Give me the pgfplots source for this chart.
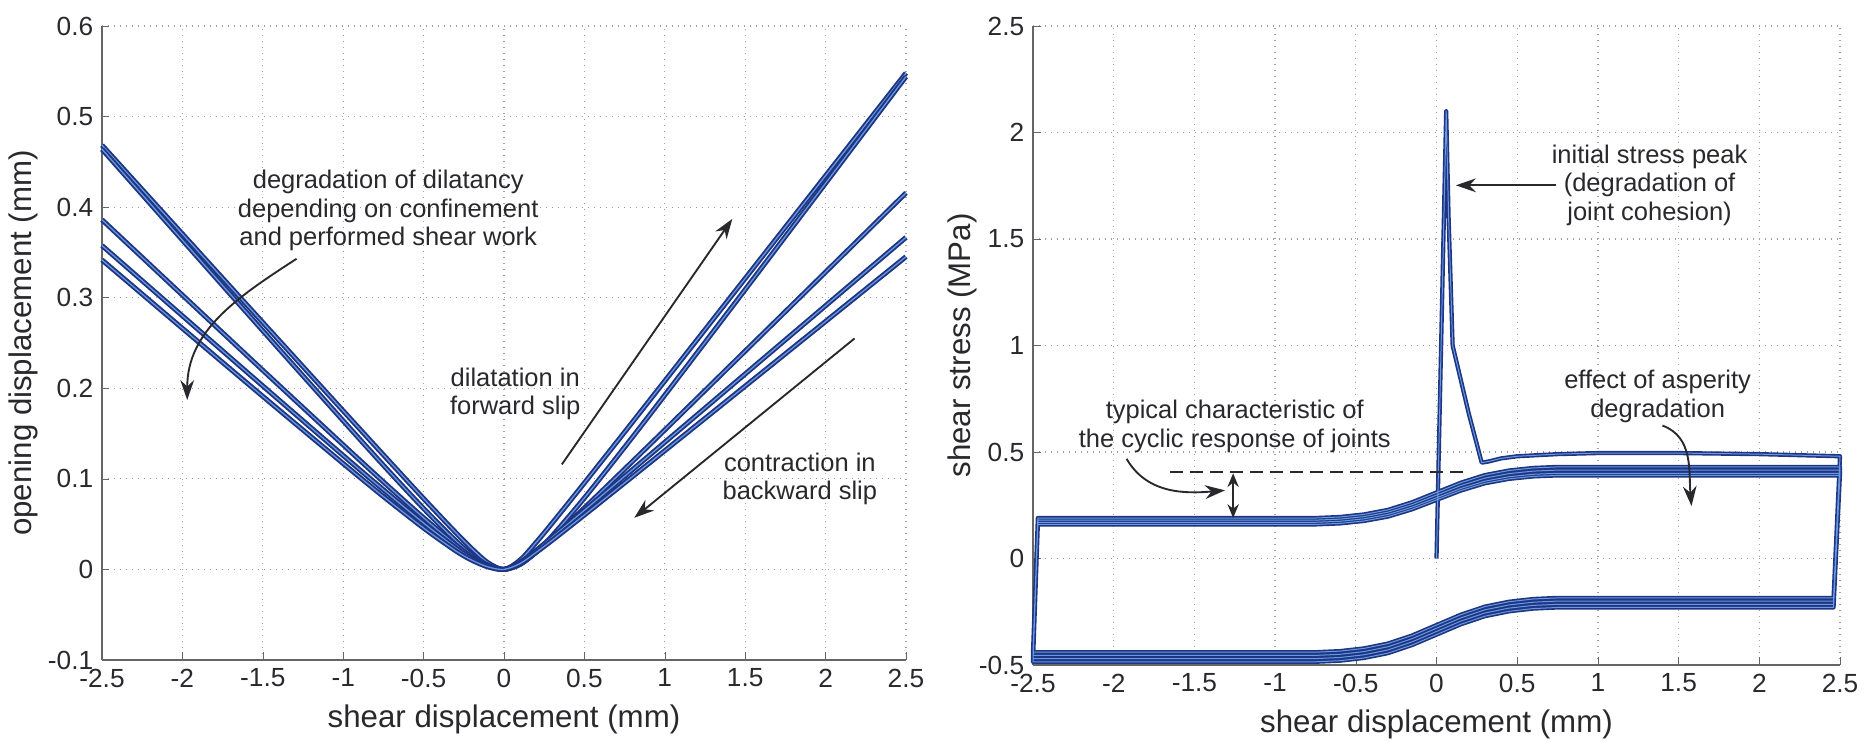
\documentclass[border=0pt]{standalone}
\usepackage{fontspec}
\setmainfont{Liberation Sans}
\usepackage{pgfplots}
\pgfplotsset{compat=1.18}
\usetikzlibrary{arrows.meta}

\definecolor{lineblue}{RGB}{30,52,132}
\definecolor{lightblue}{RGB}{105,155,220}
\definecolor{annot}{RGB}{40,40,45}

\tikzset{
  note/.style={font=\fontsize{10.2}{11.4}\selectfont, text=annot, align=center},
  pointer/.style={annot, line width=0.75pt, -{Stealth[length=8pt,width=5.5pt]}},
}
\pgfplotsset{
  jointaxis/.style={
    scale only axis,
    axis x line=bottom, axis y line=left,
    axis line style={-, gray!80!black, line width=0.5pt},
    xmin=-2.5, xmax=2.5,
    xtick={-2.5,-2,-1.5,-1,-0.5,0,0.5,1,1.5,2,2.5},
    grid=major,
    major grid style={dotted, gray!75, line width=0.5pt},
    tick align=inside,
    major tick length=3pt,
    tick style={gray!80!black},
    /pgf/number format/assume math mode=true,
    ticklabel style={font=\fontsize{10.5}{12}\selectfont, text=annot},
    label style={font=\fontsize{12.5}{14}\selectfont, text=annot},
    xlabel={shear displacement (mm)},
    clip=false,
  },
  curve/.style={lineblue, line width=0.75pt, double=lightblue, double distance=0.5pt, smooth, line join=round},
  loops/.style={lineblue, line width=0.65pt, double=lightblue, double distance=0.4pt, sharp plot, line join=round},
}

\begin{document}
\begin{tikzpicture}
\path[use as bounding box] (-40.8pt,-32.8pt) rectangle (709.6pt,264pt);

% ---- left: dilatancy ----
\begin{axis}[jointaxis, at={(0pt,0pt)}, anchor=south west,
  width=321.6pt, height=253.6pt,
  ymin=-0.1, ymax=0.6,
  ytick={-0.1,0,0.1,0.2,0.3,0.4,0.5,0.6},
  ylabel={opening displacement (mm)},
  ylabel style={yshift=-3pt}]
\addplot[curve] coordinates {
 (-2.5,0.4684) (-2,0.3705) (-1.5,0.2727) (-1,0.1751) (-0.75,0.1265) (-0.5,0.0783)
 (-0.3,0.0407) (-0.2,0.0229) (-0.1,0.0074) (0,0) (0.1,0.0103) (0.2,0.0298) (0.3,0.0512)
 (0.5,0.0955) (0.75,0.1516) (1,0.2081) (1.5,0.3213) (2,0.4347) (2.5,0.5481)};
\addplot[curve] coordinates {
 (-2.5,0.4640) (-2,0.3636) (-1.5,0.2635) (-1,0.1641) (-0.75,0.1150) (-0.5,0.0673)
 (-0.3,0.0317) (-0.2,0.0163) (-0.1,0.0046) (0,0) (0.1,0.0054) (0.2,0.0191) (0.3,0.0371)
 (0.5,0.0789) (0.75,0.1349) (1,0.1924) (1.5,0.3090) (2,0.4264) (2.5,0.5441)};
\addplot[curve] coordinates {
 (-2.5,0.3861) (-2,0.3029) (-1.5,0.2199) (-1,0.1375) (-0.75,0.0967) (-0.5,0.0570)
 (-0.3,0.0271) (-0.2,0.0140) (-0.1,0.0040) (0,0) (0.1,0.0060) (0.2,0.0192) (0.3,0.0347)
 (0.5,0.0679) (0.75,0.1108) (1,0.1540) (1.5,0.2411) (2,0.3283) (2.5,0.4157)};
\addplot[curve] coordinates {
 (-2.5,0.3576) (-2,0.2800) (-1.5,0.2026) (-1,0.1258) (-0.75,0.0880) (-0.5,0.0512)
 (-0.3,0.0239) (-0.2,0.0122) (-0.1,0.0034) (0,0) (0.1,0.0077) (0.2,0.0211) (0.3,0.0356)
 (0.5,0.0653) (0.75,0.1028) (1,0.1404) (1.5,0.2158) (2,0.2912) (2.5,0.3666)};
\addplot[curve] coordinates {
 (-2.5,0.3417) (-2,0.2662) (-1.5,0.1911) (-1,0.1169) (-0.75,0.0805) (-0.5,0.0457)
 (-0.3,0.0205) (-0.2,0.0102) (-0.1,0.0028) (0,0) (0.1,0.0065) (0.2,0.0188) (0.3,0.0322)
 (0.5,0.0601) (0.75,0.0955) (1,0.1311) (1.5,0.2024) (2,0.2738) (2.5,0.3453)};

\node[note] at (axis cs:-0.72,0.396) {degradation of dilatancy\\depending on confinement\\and performed shear work};
\draw[pointer] (axis cs:-1.29,0.343) to[out=213,in=90] (axis cs:-1.97,0.187);
\node[note] at (axis cs:0.07,0.194) {dilatation in\\forward slip};
\draw[pointer] (axis cs:0.36,0.116) -- (axis cs:1.42,0.387);
\node[note] at (axis cs:1.84,0.100) {contraction in\\backward slip};
\draw[pointer] (axis cs:2.18,0.255) -- (axis cs:0.81,0.057);
\end{axis}

% ---- right: shear stress ----
\begin{axis}[jointaxis, at={(372.4pt,-2pt)}, anchor=south west,
  width=322.8pt, height=255.6pt,
  ymin=-0.5, ymax=2.5,
  ytick={-0.5,0,0.5,1,1.5,2,2.5},
  ylabel={shear stress (MPa)},
  ylabel style={yshift=-6pt}]
\addplot[loops] coordinates {
 (0,0) (0.06,2.1) (0.075,1.6) (0.1,1.0) (0.2,0.68) (0.28,0.45) (0.32,0.455) (0.4,0.47)
 (0.5,0.48) (0.75,0.49) (1,0.495) (1.5,0.495) (2,0.49) (2.5,0.48)
 (2.46,-0.185) (2,-0.185) (1,-0.185)
 (0.75,-0.185) (0.6,-0.1901) (0.45,-0.2029) (0.3,-0.2258) (0.15,-0.2641) (0,-0.3125)
 (-0.15,-0.3610) (-0.3,-0.3992) (-0.45,-0.4222) (-0.6,-0.4349) (-0.75,-0.44)
 (-1,-0.44) (-2,-0.44) (-2.5,-0.44)
 (-2.47,0.19) (-1.5,0.19) (-1,0.19)
 (-0.75,0.19) (-0.6,0.1948) (-0.45,0.2068) (-0.3,0.2284) (-0.15,0.2644) (0,0.31)
 (0.15,0.3556) (0.3,0.3916) (0.45,0.4132) (0.6,0.4252) (0.75,0.43)
 (1.5,0.43) (2.5,0.43)
 (2.46,-0.20) (2,-0.20) (1,-0.20)
 (0.75,-0.20) (0.6,-0.2051) (0.45,-0.2179) (0.3,-0.2408) (0.15,-0.2791) (0,-0.3275)
 (-0.15,-0.3760) (-0.3,-0.4142) (-0.45,-0.4372) (-0.6,-0.4499) (-0.75,-0.455)
 (-1,-0.455) (-2,-0.455) (-2.5,-0.455)
 (-2.47,0.18) (-1.5,0.18) (-1,0.18)
 (-0.75,0.18) (-0.6,0.1847) (-0.45,0.1965) (-0.3,0.2176) (-0.15,0.2529) (0,0.2975)
 (0.15,0.3422) (0.3,0.3774) (0.45,0.3986) (0.6,0.4103) (0.75,0.415)
 (1.5,0.415) (2.5,0.415)
 (2.46,-0.215) (2,-0.215) (1,-0.215)
 (0.75,-0.215) (0.6,-0.2201) (0.45,-0.2329) (0.3,-0.2558) (0.15,-0.2941) (0,-0.3425)
 (-0.15,-0.3910) (-0.3,-0.4292) (-0.45,-0.4522) (-0.6,-0.4649) (-0.75,-0.47)
 (-1,-0.47) (-2,-0.47) (-2.5,-0.47)
 (-2.47,0.17) (-1.5,0.17) (-1,0.17)
 (-0.75,0.17) (-0.6,0.1746) (-0.45,0.1861) (-0.3,0.2068) (-0.15,0.2413) (0,0.285)
 (0.15,0.3287) (0.3,0.3632) (0.45,0.3839) (0.6,0.3954) (0.75,0.40)
 (1.5,0.40) (2.5,0.40)
 (2.46,-0.23) (2,-0.23) (1,-0.23)
 (0.75,-0.23) (0.6,-0.2351) (0.45,-0.2479) (0.3,-0.2708) (0.15,-0.3091) (0,-0.3575)
 (-0.15,-0.4060) (-0.3,-0.4442) (-0.45,-0.4672) (-0.6,-0.4799) (-0.75,-0.485)
 (-1,-0.485) (-2,-0.485) (-2.5,-0.485)
 (-2.47,0.16) (-1.5,0.16) (-1,0.16)
 (-0.75,0.16) (-0.6,0.1646) (-0.45,0.1761) (-0.3,0.1968) (-0.15,0.2313) (0,0.275)
 (0.15,0.3187) (0.3,0.3532) (0.45,0.3739) (0.6,0.3854) (0.75,0.39)
 (1.5,0.39) (2.5,0.39)};

\node[note] at (axis cs:1.32,1.752) {initial stress peak\\(degradation of\\joint cohesion)};
\draw[pointer] (axis cs:0.74,1.752) -- (axis cs:0.12,1.752);
\node[note] at (axis cs:-1.25,0.619) {typical characteristic of\\the cyclic response of joints};
\draw[annot, line width=0.9pt, dash pattern=on 5pt off 3pt] (axis cs:-1.65,0.405) -- (axis cs:0.18,0.405);
\draw[annot, line width=0.75pt, {Stealth[length=5.5pt,width=4.5pt]}-{Stealth[length=5.5pt,width=4.5pt]}] (axis cs:-1.26,0.40) -- (axis cs:-1.26,0.19);
\draw[pointer] (axis cs:-1.92,0.468) to[out=-60,in=185] (axis cs:-1.31,0.32);
\node[note] at (axis cs:1.37,0.762) {effect of asperity\\degradation};
\draw[pointer] (axis cs:1.40,0.624) to[out=-20,in=95] (axis cs:1.58,0.246);
\end{axis}
\end{tikzpicture}
\end{document}
